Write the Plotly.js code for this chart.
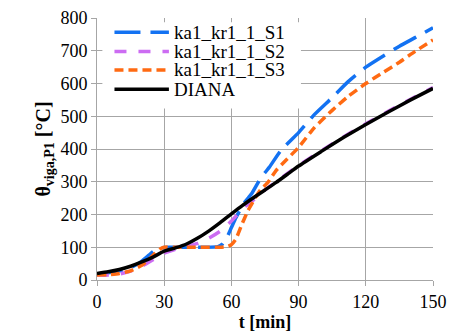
<!DOCTYPE html>
<html>
<head>
<meta charset="utf-8">
<script src="https://cdn.plot.ly/plotly-3.0.1.min.js"></script>
<style>html,body{margin:0;padding:0;background:#fff;}#chart{width:449px;height:333px;}</style>
</head>
<body>
<div id="chart"></div>
<script>
// ---- data ----
const seriesNames = ["ka1_kr1_1_S1", "ka1_kr1_1_S2", "ka1_kr1_1_S3", "DIANA"];

const tS1 = [0,5,10,15,18,20,23,26,28,32,40,48,54,56,58,60,62,64,66,69,73,77,82,90,97,105,112,120,128,135,142,150];
const TS1 = [18,22,28,38,48,58,75,92,98,100,100,100,102,110,130,160,190,215,238,263,310,345,395,450,505,557,605,650,685,714,740,770];

const tS2 = [0,5,10,15,20,25,30,35,40,45,50,55,60,62,65,70,75,80,90,100,110,120,130,140,150];
const TS2 = [15,15,18,27,42,62,82,94,103,112,128,149,180,195,218,245,275,300,350,394,437,477,515,552,588];

const tS3 = [0,5,10,15,20,23,26,28,30,35,45,55,58,60,62,64.5,67.4,70.4,73,76.4,80,85,90,97,105,112,120,128,135,142,150];
const TS3 = [15,16,20,28,45,62,82,94,100,100,100,100,102,108,125,167,212,248,275,299,335,370,405,465,518,560,600,635,665,698,733];

const tDiana = [0,5,10,15,20,25,30,35,40,45,50,55,60,65,70,75,80,85,90,100,110,120,130,140,150];
const TDiana = [20,25,32,42,55,70,88,98,110,128,150,175,202,228,252,275,298,323,348,392,435,475,513,550,585];

const xTicks = [0,30,60,90,120,150];
const yTicks = [0,100,200,300,400,500,600,700,800];

// ---- styles ----
const colors = ["#1372F2", "#CC6CF2", "#FF6A12", "#000000"];
const dashes = ["26px,10px", "12px,12px", "9px,5px", "solid"];
const widths = [3.5, 3.5, 3.5, 3.5];
const FONT = "'Liberation Serif', 'Times New Roman', Times, serif";

const xs = [tS1, tS2, tS3, tDiana];
const ys = [TS1, TS2, TS3, TDiana];

const traces = seriesNames.map((n, i) => ({
  x: xs[i], y: ys[i], name: n, type: "scatter", mode: "lines",
  line: {color: colors[i], width: widths[i], dash: dashes[i], shape: "spline", smoothing: 0.5},
  showlegend: false, hoverinfo: "skip"
}));

// manual legend (tight row spacing like the original)
const legRows = [0.946, 0.872, 0.802, 0.728];
const shapes = [{
  type: "rect", xref: "paper", yref: "paper", x0: 0.016, x1: 0.607, y0: 0.655, y1: 0.984,
  fillcolor: "#ffffff", line: {width: 0}, layer: "above"
}];
const annotations = [];
seriesNames.forEach((n, i) => {
  shapes.push({
    type: "line", xref: "paper", yref: "paper", x0: 0.052, x1: 0.214, y0: legRows[i], y1: legRows[i],
    line: {color: colors[i], width: widths[i], dash: dashes[i]}, layer: "above"
  });
  annotations.push({
    text: n, xref: "paper", yref: "paper", x: 0.225, y: legRows[i], xanchor: "left", yanchor: "middle",
    showarrow: false, height: 19, borderpad: 0, valign: "middle",
    font: {family: FONT, size: 19, color: "#000"}
  });
});

const axisCommon = {
  showgrid: true, gridcolor: "#a6a6a6", gridwidth: 1,
  showline: true, linecolor: "#a6a6a6", linewidth: 1,
  ticks: "outside", ticklen: 5, tickcolor: "#a6a6a6",
  tickfont: {family: FONT, size: 18, color: "#000"},
  zeroline: false, fixedrange: true
};

const layout = {
  width: 449, height: 333,
  margin: {l: 97, r: 16, t: 18, b: 53, pad: 0},
  paper_bgcolor: "#fff", plot_bgcolor: "#fff",
  font: {family: FONT, color: "#000"},
  showlegend: false,
  xaxis: Object.assign({}, axisCommon, {
    range: [0, 150], tickmode: "array", tickvals: xTicks, ticktext: xTicks.map(String),
    title: {text: "<b>t [min]</b>", font: {family: FONT, size: 18, color: "#000"}, standoff: 2}
  }),
  yaxis: Object.assign({}, axisCommon, {
    range: [0, 800], tickmode: "array", tickvals: yTicks, ticktext: yTicks.map(String),
    title: {text: "<b>θ<sub>viga,P1</sub> [°C]</b>", font: {family: FONT, size: 20, color: "#000"}, standoff: 4}
  }),
  shapes: shapes,
  annotations: annotations
};

Plotly.newPlot("chart", traces, layout, {displayModeBar: false, staticPlot: true});
</script>
</body>
</html>
